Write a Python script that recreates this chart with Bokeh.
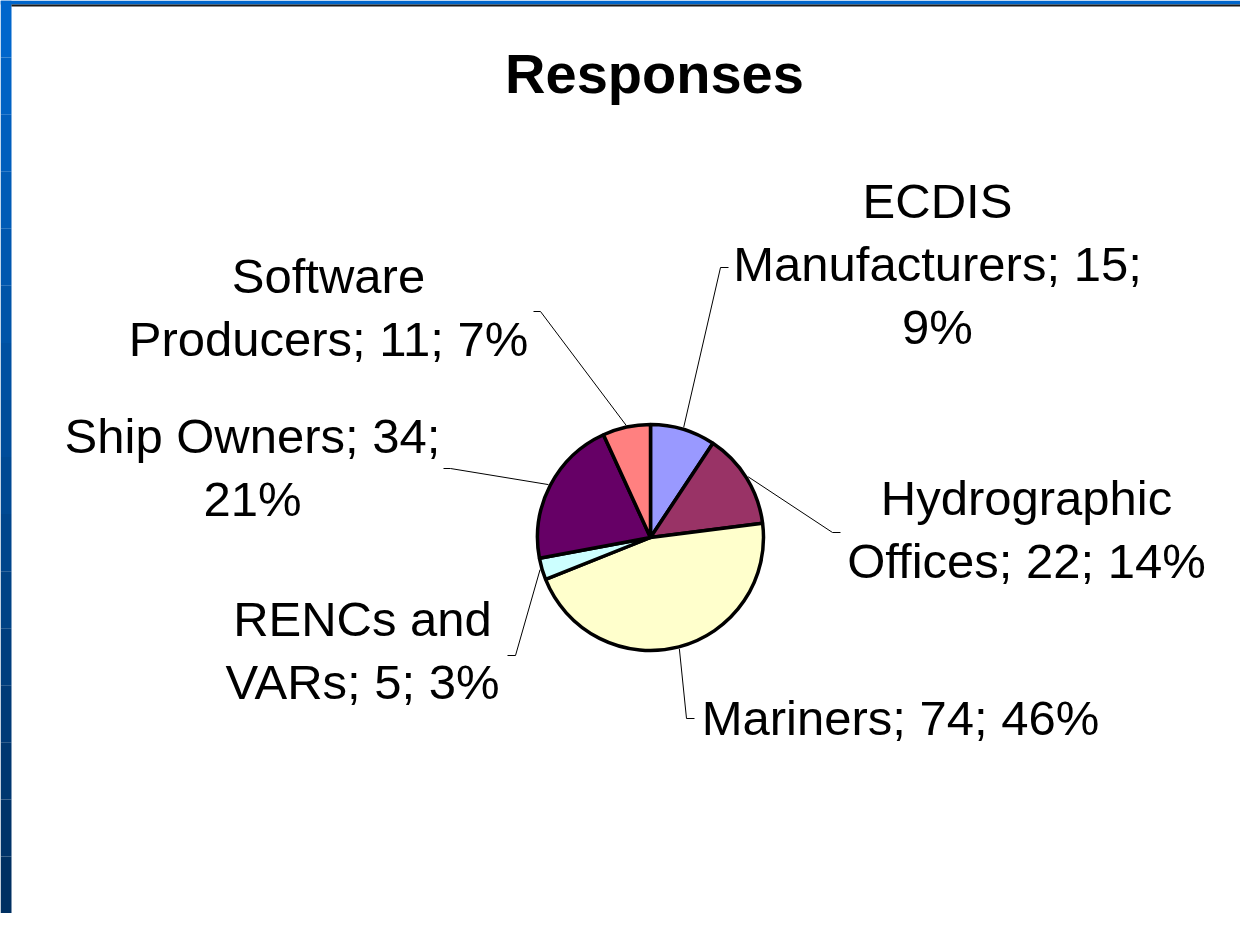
import numpy as np
from bokeh.plotting import figure
from bokeh.models import Range1d
from bokeh.core.properties import value
from bokeh.embed import file_html
from bokeh.resources import INLINE

# ---- data ----
title = "Responses"
categories = ["ECDIS Manufacturers", "Hydrographic Offices", "Mariners",
              "RENCs and VARs", "Ship Owners", "Software Producers"]
values = [15, 22, 74, 5, 34, 11]
percents = [9, 14, 46, 3, 21, 7]
colors = ["#9999FF", "#993366", "#FFFFCC", "#CCFFFF", "#660066", "#FF8080"]
# words per line when the label wraps
wrap = [[1, 2, 1], [1, 3], [3], [2, 3], [3, 1], [1, 3]]

# ---- layout (picture pixel coordinates) ----
W, H = 1240, 913
PAGE_H = 929
def Y(py):
    return PAGE_H - py

cx, cy, R = 650, 537, 113
label_x = [937, 1026, 900, 362, 252, 328]
label_y0 = [200, 497, 717, 618, 435, 275]
line_gap = 63
elbow = [(720, 267), (832, 532), (686, 718), (515, 655), (450, 468), (540, 311)]
tail = [(728, 267), (840, 532), (694, 718), (507, 655), (443, 468), (533, 311)]

p = figure(width=W, height=H, output_backend="svg", toolbar_location=None,
           x_range=Range1d(0, W), y_range=Range1d(Y(H), Y(0)),
           min_border=0, border_fill_color="white", background_fill_color="white")
p.axis.visible = False
p.grid.visible = False
p.outline_line_color = None

# slide frame: left blue strip and top band
bands = 16
edges = np.linspace(0, H, bands + 1)
c0 = np.array([0x00, 0x66, 0xCC]); c1 = np.array([0x00, 0x30, 0x62])
for i in range(bands):
    t = i / (bands - 1)
    c = (c0 * (1 - t) + c1 * t).astype(int)
    p.quad(left=0, right=11, top=Y(edges[i]), bottom=Y(edges[i + 1]),
           fill_color="#%02x%02x%02x" % tuple(c), line_color=None)
p.quad(left=0, right=W, top=Y(0), bottom=Y(4), fill_color="#0066CC", line_color=None)
p.quad(left=11, right=W, top=Y(4), bottom=Y(6), fill_color="#1a1a1a", line_color=None)

# pie
total = sum(values)
cum = np.concatenate([[0], np.cumsum(values)])
start = np.pi / 2 - 2 * np.pi * cum[:-1] / total
end = np.pi / 2 - 2 * np.pi * cum[1:] / total
p.wedge(x=cx, y=Y(cy), radius=R, start_angle=start, end_angle=end,
        direction="clock", fill_color=colors, line_color="black", line_width=3.5)

# leader lines
mid = (start + end) / 2
xs, ys = [], []
for i in range(len(values)):
    sx = cx + (R + 2) * np.cos(mid[i])
    sy = Y(cy) + (R + 2) * np.sin(mid[i])
    xs.append([sx, elbow[i][0], tail[i][0]])
    ys.append([sy, Y(elbow[i][1]), Y(tail[i][1])])
p.multi_line(xs=xs, ys=ys, line_color="black", line_width=1)

# labels
for i, cat in enumerate(categories):
    words = f"{cat}; {values[i]}; {percents[i]}%".split(" ")
    k = 0
    for j, n in enumerate(wrap[i]):
        line = " ".join(words[k:k + n]); k += n
        p.text(x=[label_x[i]], y=[Y(label_y0[i] + j * line_gap)], text=[line],
               text_align="center", text_baseline="alphabetic",
               text_font=value("Liberation Sans"), text_font_size="49px",
               text_color="black")

p.text(x=[654], y=[Y(73)], text=[title], text_align="center",
       text_baseline="alphabetic", text_font=value("Liberation Sans"),
       text_font_size="56px", text_font_style="bold", text_color="black")

open("out.html", "w").write(file_html(p, INLINE))
